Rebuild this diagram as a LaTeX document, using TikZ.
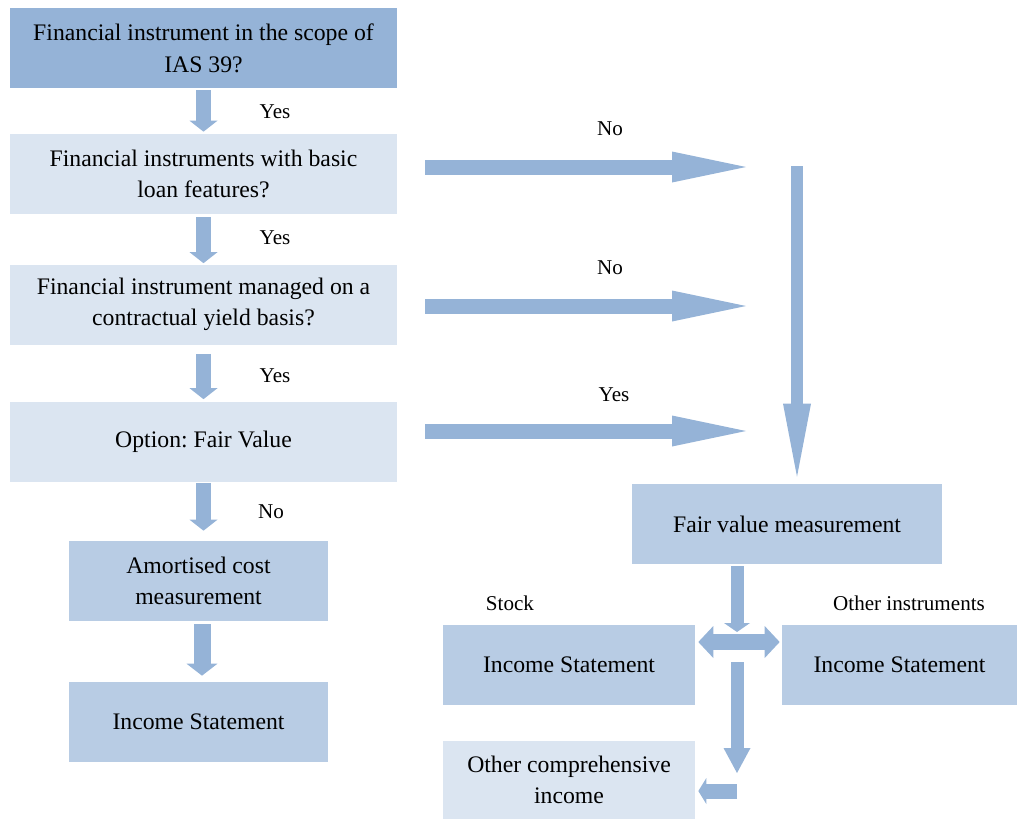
\documentclass[tikz,border=0pt]{standalone}
\usepackage{fontspec}
\setmainfont{Liberation Serif}
\usepackage{xcolor}
\usepackage{tikz}
\usetikzlibrary{arrows.meta, calc}

\definecolor{darkfill}{HTML}{95B3D7}
\definecolor{midfill}{HTML}{B8CCE4}
\definecolor{lightfill}{HTML}{DBE5F1}

\begin{document}
\frenchspacing
\begin{tikzpicture}[x=0.02cm, y=-0.02cm, >={Triangle[line width=0pt]}, nodes={align=center, inner sep=0pt, font=\fontsize{13.5}{18}\selectfont}, box/.style={rectangle, minimum height=1.6cm}, lbl/.style={font=\fontsize{12}{14}\selectfont}, blk/.style={draw=darkfill, line width=#1}, down/.style={blk=0.29cm, -{>[width=0.56cm, length=0.22cm]}}]
  \useasboundingbox (0,0) rectangle (1017,819);

  % left column
  \node[box, fill=darkfill, minimum width=7.74cm] (scope) at (203.5,48) {Financial instrument in the scope of\\IAS 39?};
  \node[box, fill=lightfill, minimum width=7.74cm] (loan) at (203.5,174) {Financial instruments with basic\\loan features?};
  \node[box, fill=lightfill, minimum width=7.74cm] (yield) at (203.5,304.5) {Financial instrument managed on a\\contractual yield basis?};
  \node[box, fill=lightfill, minimum width=7.74cm] (option) at (203.5,441.5) {Option: Fair Value};
  \node[box, fill=midfill, minimum width=5.18cm] (amort) at (198.5,581) {Amortised cost\\measurement};
  \node[box, fill=midfill, minimum width=5.18cm] (incL) at (198.5,722) {Income Statement};

  % right side
  \node[box, fill=midfill, minimum width=6.2cm] (fv) at (787,524) {Fair value measurement};
  \node[box, fill=midfill, minimum width=5.04cm] (incS) at (569,665) {Income Statement};
  \node[box, fill=midfill, minimum width=4.7cm] (incO) at (899.5,665) {Income Statement};
  \node[box, fill=lightfill, minimum width=5.04cm, minimum height=1.56cm] (oci) at (569,780) {Other comprehensive\\income};

  % labels
  \node[lbl] at (275,112) {Yes};
  \node[lbl] at (275,238) {Yes};
  \node[lbl] at (275,376) {Yes};
  \node[lbl] at (271,512) {No};
  \node[lbl] at (610,129) {No};
  \node[lbl] at (610,268) {No};
  \node[lbl] at (614,395) {Yes};
  \node[lbl] at (510,603) {Stock};
  \node[lbl] at (909,603) {Other instruments};

  \coordinate (h1) at (425,167);
  \coordinate (h2) at (425,306);
  \coordinate (h3) at (425,431);
  \coordinate (vtop) at (797,166);
  \coordinate (j) at (737,642);
  \coordinate (d2s) at (737,662);
  \coordinate (d2e) at (737,773);
  \coordinate (l1s) at (737,791);

  % down arrows
  \draw[down, shorten <=0.04cm, shorten >=0.04cm] (scope.south) -- (loan.north);
  \draw[down, shorten <=0.06cm, shorten >=0.02cm] (loan.south) -- (yield.north);
  \draw[down, shorten <=0.18cm, shorten >=0.04cm] (yield.south) -- (option.north);
  \draw[down, shorten <=0.02cm, shorten >=0.2cm] (option.south) -- (option.south |- amort.north);
  \draw[down, blk=0.34cm, -{>[width=0.62cm, length=0.24cm]}, shorten <=0.06cm, shorten >=0.12cm] ([xshift=0.07cm]amort.south) -- ([xshift=0.07cm]incL.north);

  % arrows to the right
  \foreach \h in {h1,h2,h3}
    \draw[blk=0.3cm, -{>[width=0.62cm, length=1.48cm]}] (\h) -- ++(321,0);
  \draw[blk=0.24cm, -{>[width=0.56cm, length=1.46cm]}, shorten >=0.14cm] (vtop) -- (vtop |- fv.north);

  % below fair value
  \draw[blk=0.26cm, -{>[width=0.52cm, length=0.18cm]}, shorten <=0.04cm, shorten >=0.2cm] (fv.south -| j) -- (j);
  \draw[blk=0.32cm, {<[width=0.64cm, length=0.3cm]}-{>[width=0.64cm, length=0.3cm]}, shorten <=0.06cm, shorten >=0.04cm] (incS.east |- j) -- (incO.west |- j);
  \draw[blk=0.26cm, -{>[width=0.54cm, length=0.5cm]}] (d2s) -- (d2e);
  \draw[blk=0.3cm, -{>[width=0.52cm, length=0.16cm]}, shorten >=0.06cm] (l1s) -- (oci.east |- l1s);
\end{tikzpicture}
\end{document}
